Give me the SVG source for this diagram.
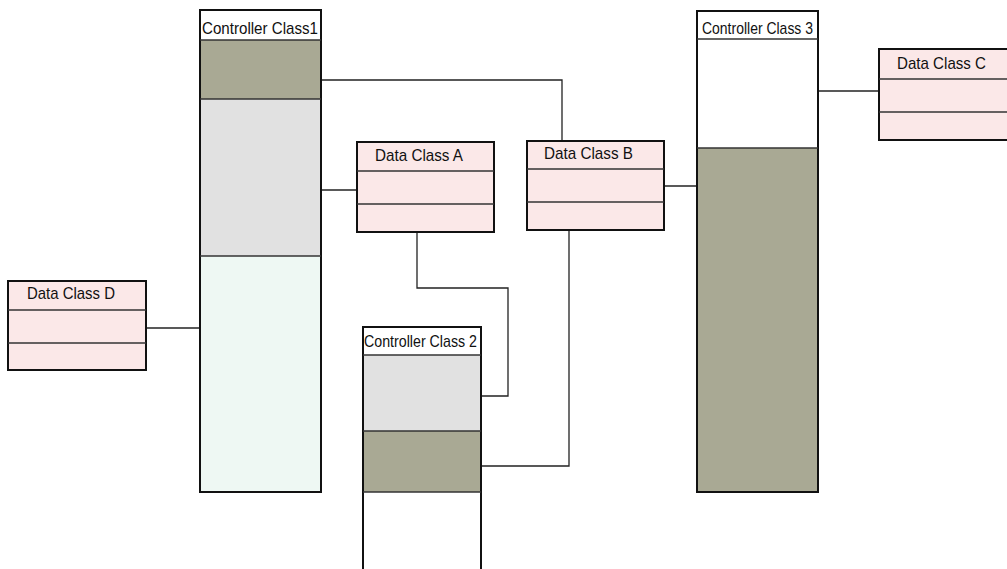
<svg xmlns="http://www.w3.org/2000/svg" width="1007" height="569" viewBox="0 0 1007 569">
  <style>
    .box { stroke: #111; stroke-width: 2; }
    .div { stroke: #333; stroke-width: 1.6; fill: none; }
    .olive { fill: #a9a994; }
    .grey { fill: #e1e1e1; }
    .mint { fill: #eef8f3; }
    .white { fill: #ffffff; }
    .pink { fill: #fbe8e8; }
    .lbl { font-family: "Liberation Sans", Arial, sans-serif; font-size: 17px; fill: #111; }
    .wire { stroke: #222; stroke-width: 1.3; fill: none; }
  </style>
  <rect width="1007" height="569" fill="#ffffff"/>

  <!-- connectors -->
  <g id="connectors">
    <polyline class="wire" points="322,80 562,80 562,141"/>
    <line class="wire" x1="322" y1="190" x2="357" y2="190"/>
    <line class="wire" x1="664" y1="186" x2="697" y2="186"/>
    <line class="wire" x1="818" y1="91" x2="879" y2="91"/>
    <line class="wire" x1="146" y1="328" x2="200" y2="328"/>
    <polyline class="wire" points="417,232 417,288 508,288 508,396 481,396"/>
    <polyline class="wire" points="569,230 569,466 481,466"/>
  </g>

  <!-- Controller Class1 -->
  <g id="controller1">
    <rect class="white" x="200" y="10" width="121" height="30"/>
    <rect class="olive" x="200" y="40" width="121" height="59"/>
    <rect class="grey" x="200" y="99" width="121" height="157"/>
    <rect class="mint" x="200" y="256" width="121" height="236"/>
    <rect class="box" x="200" y="10" width="121" height="482" fill="none"/>
    <line class="div" x1="200" y1="40" x2="321" y2="40"/>
    <line class="div" x1="200" y1="99" x2="321" y2="99"/>
    <line class="div" x1="200" y1="256" x2="321" y2="256"/>
    <text class="lbl" x="202" y="34" textLength="116" lengthAdjust="spacingAndGlyphs">Controller Class1</text>
  </g>

  <!-- Controller Class 2 -->
  <g id="controller2">
    <rect class="white" x="363" y="327" width="118" height="28"/>
    <rect class="grey" x="363" y="355" width="118" height="76"/>
    <rect class="olive" x="363" y="431" width="118" height="61"/>
    <polyline class="box" fill="none" points="363,569 363,327 481,327 481,569"/>
    <line class="div" x1="363" y1="355" x2="481" y2="355"/>
    <line class="div" x1="363" y1="431" x2="481" y2="431"/>
    <line class="div" x1="363" y1="492" x2="481" y2="492"/>
    <text class="lbl" x="364" y="347" textLength="113" lengthAdjust="spacingAndGlyphs">Controller Class 2</text>
  </g>

  <!-- Controller Class 3 -->
  <g id="controller3">
    <rect class="white" x="697" y="11" width="121" height="137"/>
    <rect class="olive" x="697" y="148" width="121" height="344"/>
    <rect class="box" x="697" y="11" width="121" height="481" fill="none"/>
    <line class="div" x1="697" y1="39" x2="818" y2="39"/>
    <line class="div" x1="697" y1="148" x2="818" y2="148"/>
    <text class="lbl" x="702" y="34" textLength="111" lengthAdjust="spacingAndGlyphs">Controller Class 3</text>
  </g>

  <!-- Data Class A -->
  <g id="dataA">
    <rect class="box pink" x="357" y="142" width="137" height="90"/>
    <line class="div" x1="357" y1="171" x2="494" y2="171"/>
    <line class="div" x1="357" y1="204" x2="494" y2="204"/>
    <text class="lbl" x="375" y="161" textLength="88" lengthAdjust="spacingAndGlyphs">Data Class A</text>
  </g>

  <!-- Data Class B -->
  <g id="dataB">
    <rect class="box pink" x="527" y="141" width="137" height="89"/>
    <line class="div" x1="527" y1="169" x2="664" y2="169"/>
    <line class="div" x1="527" y1="202" x2="664" y2="202"/>
    <text class="lbl" x="544" y="159" textLength="89" lengthAdjust="spacingAndGlyphs">Data Class B</text>
  </g>

  <!-- Data Class C -->
  <g id="dataC">
    <rect class="box pink" x="879" y="49" width="132" height="91"/>
    <line class="div" x1="879" y1="79" x2="1007" y2="79"/>
    <line class="div" x1="879" y1="112" x2="1007" y2="112"/>
    <text class="lbl" x="897" y="69" textLength="89" lengthAdjust="spacingAndGlyphs">Data Class C</text>
  </g>

  <!-- Data Class D -->
  <g id="dataD">
    <rect class="box pink" x="8" y="281" width="138" height="89"/>
    <line class="div" x1="8" y1="310" x2="146" y2="310"/>
    <line class="div" x1="8" y1="343" x2="146" y2="343"/>
    <text class="lbl" x="27" y="299" textLength="88" lengthAdjust="spacingAndGlyphs">Data Class D</text>
  </g>
</svg>
